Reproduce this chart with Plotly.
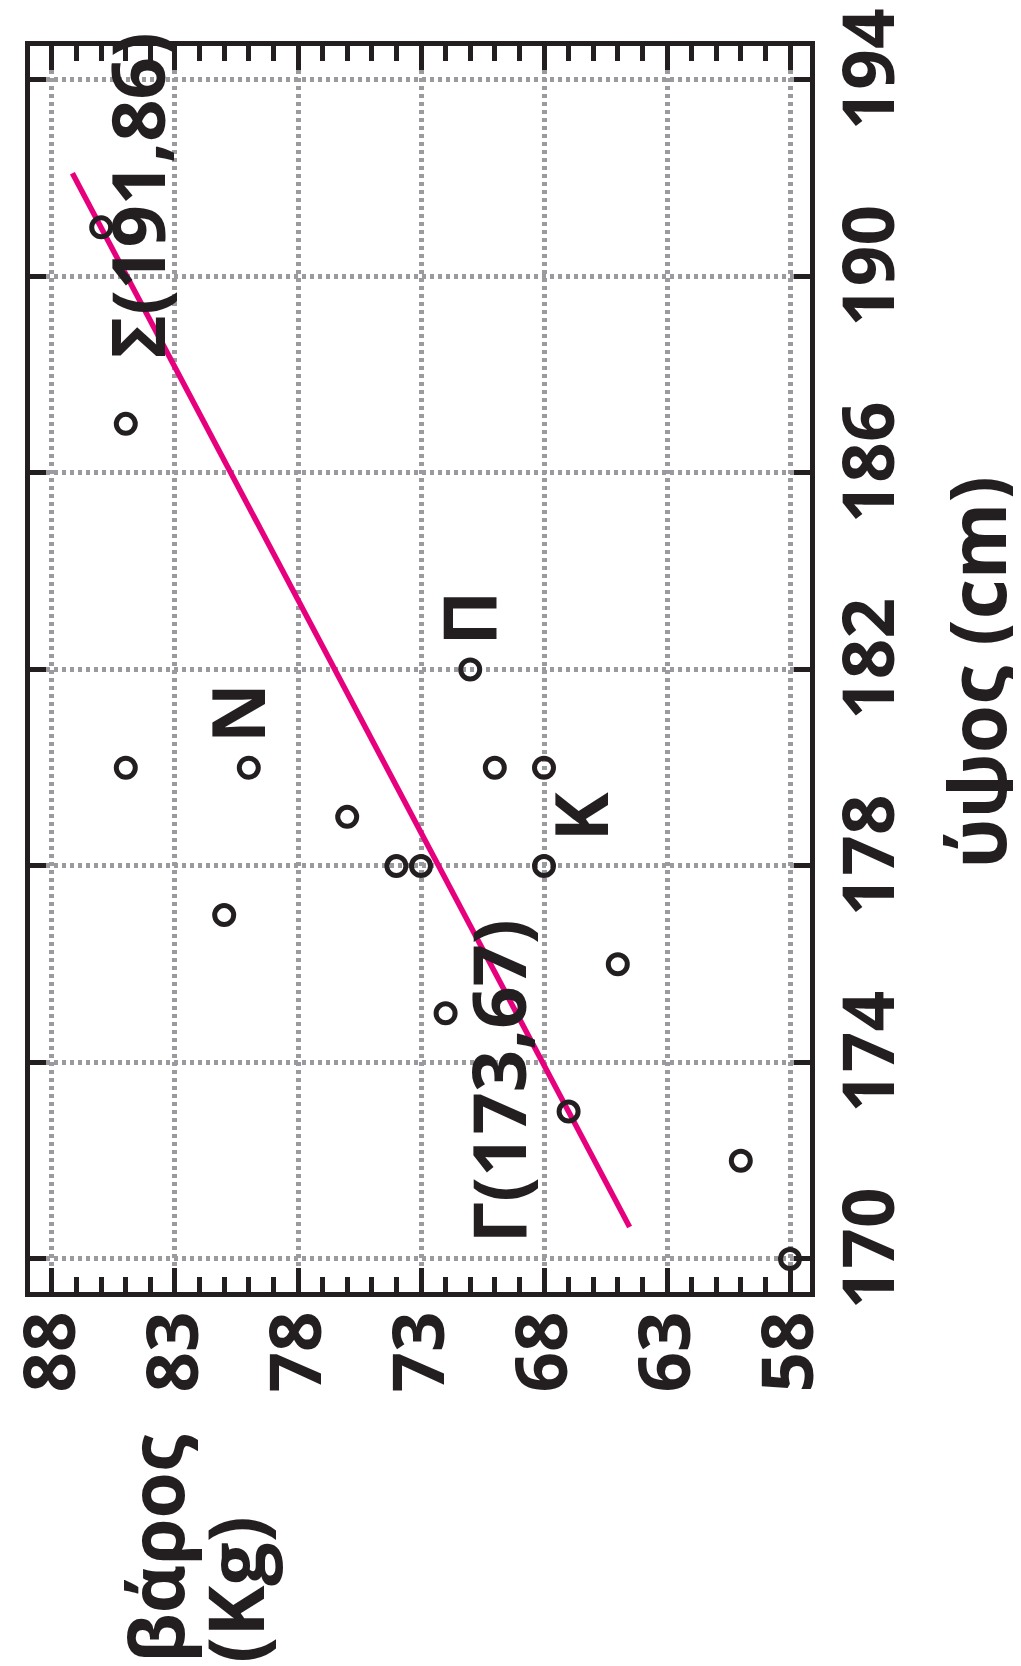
import plotly.graph_objects as go

# data (height in cm, weight in kg)
heights = [170, 172, 173, 175, 176, 177, 178, 178, 178, 179, 180, 180, 180, 180, 182, 187, 191]
weights = [58, 60, 67, 72, 65, 81, 74, 73, 68, 76, 85, 80, 70, 68, 71, 85, 86]

# regression line endpoints (through Γ(173,67) and Σ(191,86))
line_heights = [170.65, 192.1]
line_weights = [64.52, 87.17]

weight_ticks = [88, 83, 78, 73, 68, 63, 58]
height_ticks = [170, 174, 178, 182, 186, 190, 194]

# point labels: (text, weight, height)
label_texts = ["Σ(191,86)", "Γ(173,67)", "N", "Π", "K"]
label_weights = [84.55, 69.9, 80.5, 71.1, 66.55]
label_heights = [191.66, 173.62, 181.12, 183.05, 179.0]

INK = "#231f20"
GRID = "#9b9b9f"
FONT = "Open Sans"

fig = go.Figure()

fig.add_trace(go.Scatter(
    x=line_weights, y=line_heights, mode="lines",
    line=dict(color="#e6007e", width=5.5), showlegend=False, hoverinfo="skip"))

fig.add_trace(go.Scatter(
    x=weights, y=heights, mode="markers",
    marker=dict(symbol="circle-open", size=19, color=INK, line=dict(width=5, color=INK)),
    showlegend=False))

for t, w, h in zip(label_texts, label_weights, label_heights):
    fig.add_annotation(x=w, y=h, xref="x", yref="y", text=t, showarrow=False,
                       textangle=-90, xanchor="center", yanchor="middle",
                       font=dict(family=FONT, size=74, color=INK, weight="bold"))

# axis titles
fig.add_annotation(x=1.2125, y=0.4976, xref="paper", yref="paper", text="ύψος (cm)",
                   showarrow=False, textangle=-90, xanchor="center", yanchor="middle",
                   font=dict(family=FONT, size=78, color=INK, weight="bold"))
fig.add_annotation(x=0.160, y=-0.2994, xref="paper", yref="paper", text="βάρος",
                   showarrow=False, textangle=-90, xanchor="center", yanchor="bottom",
                   font=dict(family=FONT, size=75, color=INK, weight="bold"))
fig.add_annotation(x=0.262, y=-0.2994, xref="paper", yref="paper", text="(Kg)",
                   showarrow=False, textangle=-90, xanchor="center", yanchor="bottom",
                   font=dict(family=FONT, size=77, color=INK, weight="bold"))

tickfont = dict(family=FONT, size=71, color=INK, weight="bold")

fig.update_xaxes(
    range=[88.894, 57.187], autorange=False, automargin=False,
    tickmode="array", tickvals=weight_ticks, ticktext=[str(v) for v in weight_ticks],
    tickangle=-90, tickfont=tickfont, ticklabeloverflow="allow",
    ticks="inside", ticklen=24, tickwidth=4.5, tickcolor=INK,
    minor=dict(dtick=1, tick0=58, ticks="inside", ticklen=15, tickwidth=4.5,
               tickcolor=INK, showgrid=False),
    showline=True, linewidth=5, linecolor=INK, mirror="ticks",
    showgrid=True, gridcolor=GRID, gridwidth=4.5, griddash="4px,4px",
    zeroline=False, ticklabelstandoff=-14,
)
fig.update_yaxes(
    range=[169.328, 194.692], autorange=False, automargin=False, side="right",
    tickmode="array", tickvals=height_ticks, ticktext=[str(v) for v in height_ticks],
    tickangle=-90, tickfont=tickfont, ticklabeloverflow="allow",
    ticks="inside", ticklen=16, tickwidth=5, tickcolor=INK,
    showline=True, linewidth=5, linecolor=INK, mirror="ticks",
    showgrid=True, gridcolor=GRID, gridwidth=4.5, griddash="4px,4px",
    zeroline=False, ticklabelstandoff=-6,
)

fig.update_layout(
    width=1021, height=1666,
    margin=dict(l=22, r=219, t=38, b=382, autoexpand=False),
    paper_bgcolor="white", plot_bgcolor="white",
    font=dict(family=FONT, color=INK),
)

fig.write_html("out.html")
